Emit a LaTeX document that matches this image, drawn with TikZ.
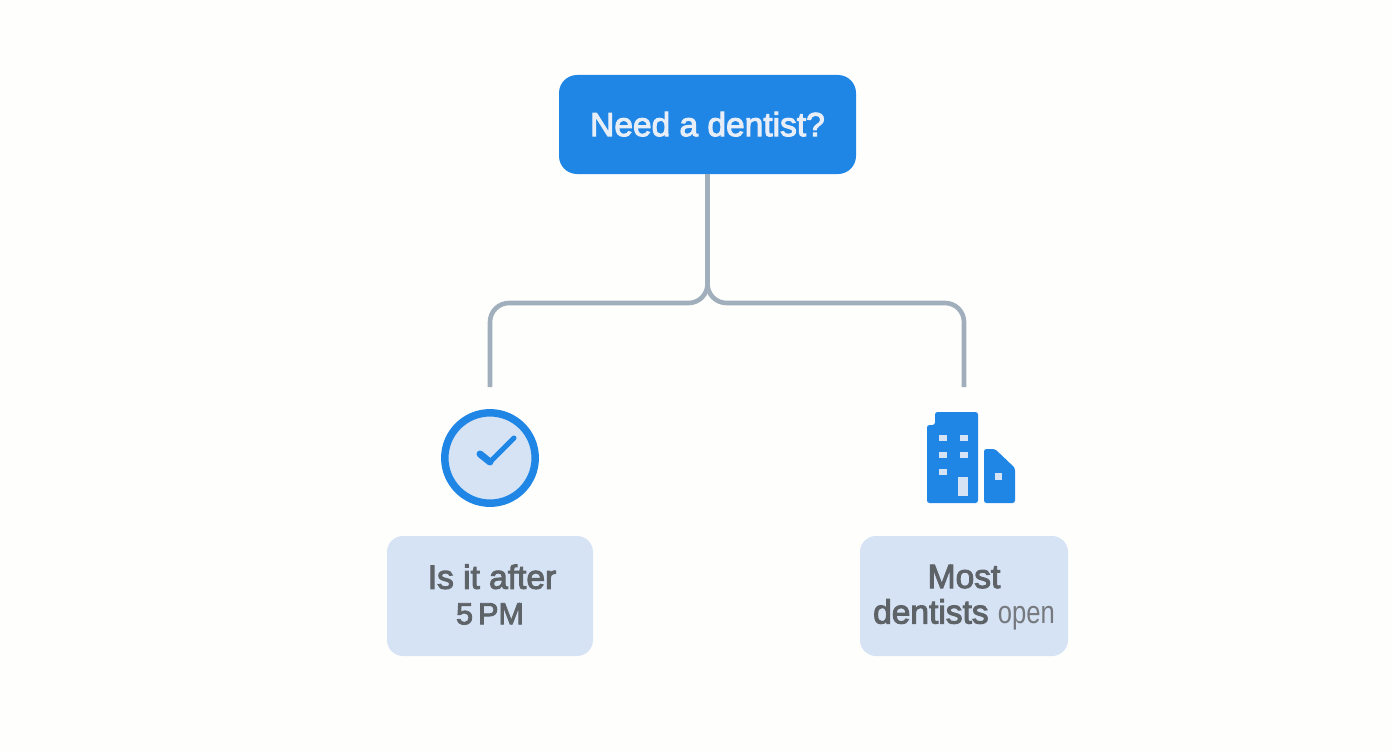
\documentclass[tikz,border=0pt]{standalone}
\usepackage{fontspec}
\setmainfont{Liberation Sans}
\newfontfamily\medfont[FakeBold=3]{Liberation Sans}
\newfontfamily\narrowfont[FakeStretch=0.8]{Liberation Sans}
\definecolor{bgc}{HTML}{FEFEFD}
\definecolor{blueC}{HTML}{2086E6}
\definecolor{paleC}{HTML}{D5E3F5}
\definecolor{lineC}{HTML}{A1AFBC}
\definecolor{inkC}{HTML}{5E6368}
\definecolor{rootInk}{HTML}{E8EEF8}
\tikzset{
  rootbox/.style={fill=blueC,rounded corners=18pt,minimum width=297pt,minimum height=99pt,inner sep=0pt,text=rootInk,font=\medfont\fontsize{33.5}{40}\selectfont,align=center},
  leafbox/.style={fill=paleC,rounded corners=16pt,minimum height=120pt,inner sep=0pt,text=inkC,align=center,font=\medfont\fontsize{33.5}{35.5}\selectfont},
  wire/.style={draw=lineC,line width=4.6pt,rounded corners=19pt},
  glyph/.style={fill=blueC,rounded corners=2.5pt},
  pane/.style={fill=paleC}
}
\begin{document}
\begin{tikzpicture}[x=1pt,y=-1pt]
\useasboundingbox[fill=bgc] (0,0) rectangle (1392,752);
\node[rootbox] (root) at (707.5,124.5) {\raisebox{1pt}{Need a dentist?}};
\node[leafbox,minimum width=206pt] (after) at (490,596) {\raisebox{-10.5pt}[0pt][0pt]{\hspace*{4pt}Is it after}\\\raisebox{-10.5pt}[0pt][0pt]{\fontsize{30.5}{35.5}\selectfont 5\,PM}};
\node[leafbox,minimum width=208pt] (most) at (964,596) {\raisebox{-9.75pt}[0pt][0pt]{Most}\\\raisebox{-9.75pt}[0pt][0pt]{dentists {\narrowfont\color{inkC!85}\fontsize{32}{35.5}\selectfont open}}};
\coordinate (endL) at (490,387);
\coordinate (endR) at (964,387);
\coordinate (bus) at (0,303);
\draw[wire] (root.south) -- (root.south |- bus) -- (endL |- bus) -- (endL);
\draw[wire] (root.south) -- (root.south |- bus) -- (endR |- bus) -- (endR);
% clock
\draw[draw=blueC,fill=paleC,line width=7.5pt] (490,458) circle (45.2);
\draw[blueC,line width=5pt,line cap=round,line join=round] (490,462) -- (514,438);
\draw[blueC,line width=7pt,line cap=round,line join=round] (480,454) -- (490,462);
% building
\fill[glyph] (935,412) -- (978,412) -- (978,503) -- (927,503) -- (927,425) -- (935,425) -- cycle;
\fill[glyph] (984,449) -- (995,449) -- (1015,468) -- (1015,503) -- (984,503) -- cycle;
\foreach \px/\py in {943/438,964/438,943/455,964/455,943/472}
  \fill[pane] (\px-3.7,\py-3.2) rectangle (\px+3.7,\py+3.2);
\fill[pane] (958,477) rectangle (968,496);
\fill[pane] (994.5,472.5) rectangle (1002,480);
\end{tikzpicture}
\end{document}
